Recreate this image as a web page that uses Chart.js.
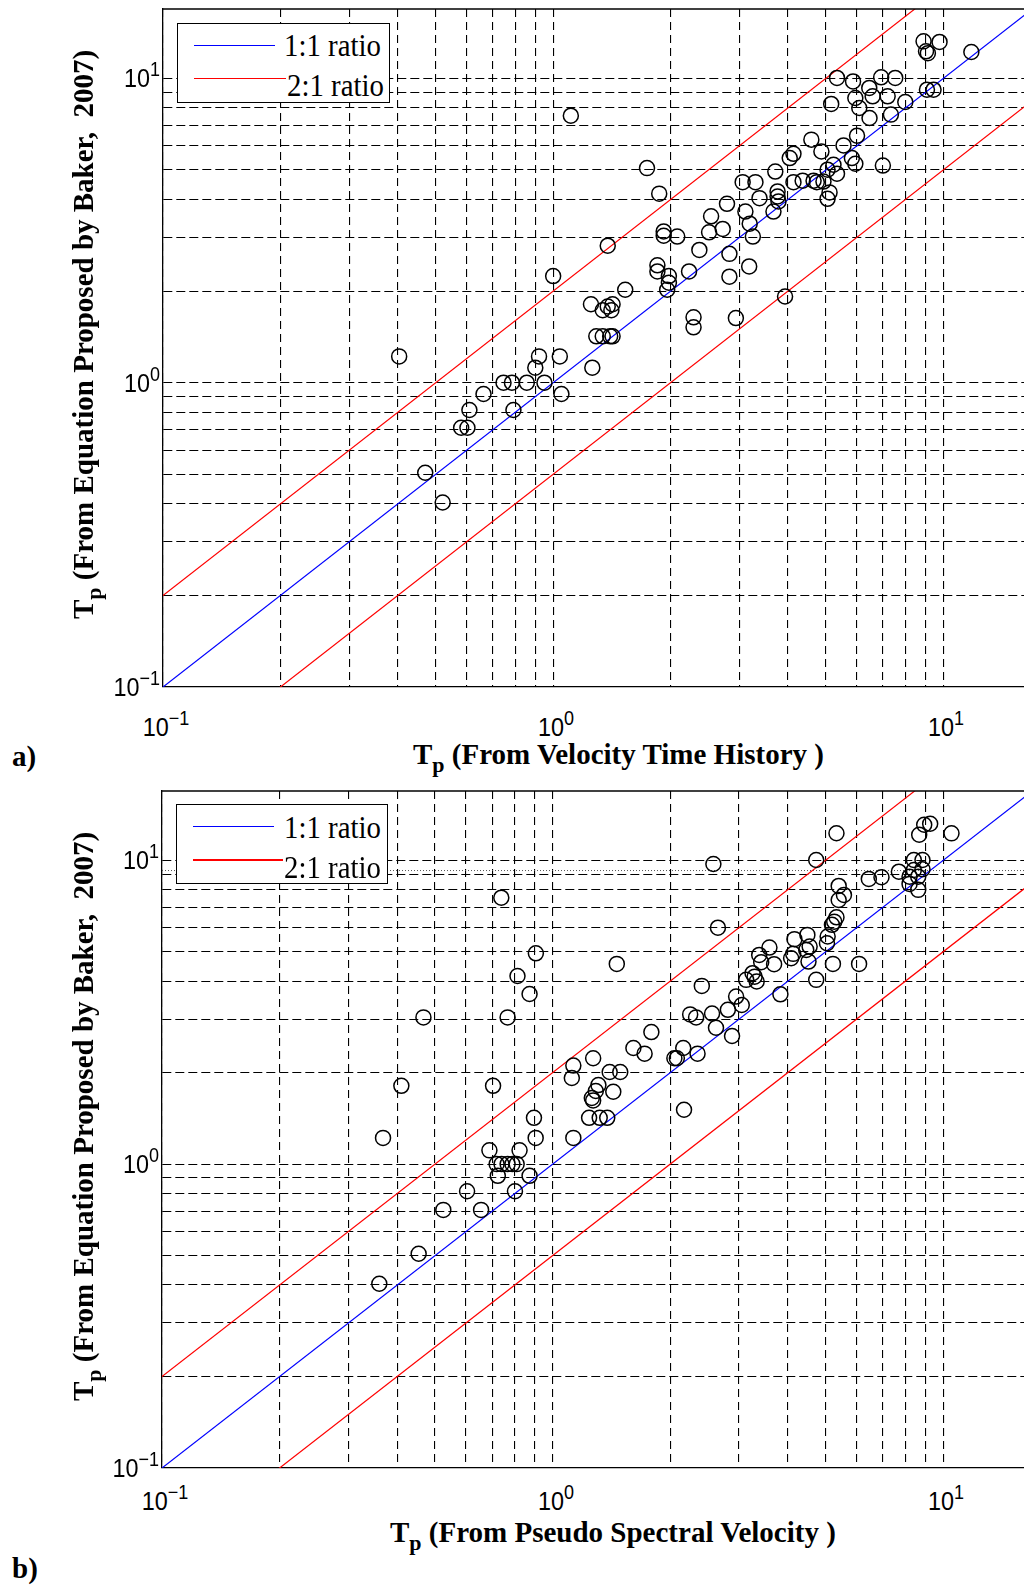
<!DOCTYPE html>
<html>
<head>
<meta charset="utf-8">
<script src="https://cdn.jsdelivr.net/npm/chart.js@4.4.0/dist/chart.umd.min.js"></script>
<style>
  body { margin: 0; background: #fff; }
  #page { position: relative; width: 1024px; height: 1586px; overflow: hidden; background: #fff; }
  .panel { position: absolute; left: 0; width: 1024px; height: 700px; }
  .tick {
    position: absolute; font-family: "Liberation Sans", Arial, sans-serif; font-size: 26px;
    line-height: 1; white-space: nowrap; color: #000;
  }
  .tick sup { font-size: 20px; position: relative; top: -11px; vertical-align: baseline; }
  .xtick { transform-origin: 50% 50%; transform: translate(-50%, -50%) scaleX(0.9); }
  .ytick { transform-origin: 100% 50%; transform: translate(-100%, -50%) scaleX(0.9); }
  .title {
    position: absolute; font-family: "Liberation Serif", "Times New Roman", serif; font-weight: bold;
    font-size: 29px; line-height: 1; white-space: pre; color: #000;
  }
  .title sub { font-size: 22px; position: relative; top: 8px; vertical-align: baseline; }
  .ytitle { transform-origin: 0 0; transform: rotate(-90deg); }
  .legend { position: absolute; background: #fff; border: 1.3px solid #000; box-sizing: border-box; }
  .legend .swatch { position: absolute; height: 0; }
  .legend .label {
    position: absolute; font-family: "Liberation Serif", "Times New Roman", serif; font-size: 31px;
    line-height: 1; white-space: nowrap; transform-origin: 0 0; transform: scaleX(0.93);
  }
</style>
</head>
<body>
<div id="page">
  <div class="panel" id="panelA" style="top:0px"><canvas id="chartA"></canvas></div>
  <div class="panel" id="panelB" style="top:780px"><canvas id="chartB"></canvas></div>

  <div class="legend" style="left:177px; top:23px; width:213px; height:80px">
    <div class="swatch" style="left:16px; top:21px; width:81px; border-top:1.3px solid #0000ff"></div>
    <div class="label" style="left:106px; top:6px">1:1 ratio</div>
    <div class="swatch" style="left:16px; top:54px; width:92px; border-top:1.3px solid #ff0000"></div>
    <div class="label" style="left:109px; top:46px">2:1 ratio</div>
  </div>
  <div class="legend" style="left:176px; top:804px; width:212px; height:80px">
    <div class="swatch" style="left:16px; top:21px; width:81px; border-top:1.3px solid #0000ff"></div>
    <div class="label" style="left:107px; top:7px">1:1 ratio</div>
    <div class="swatch" style="left:16px; top:54px; width:90px; border-top:2px solid #ff0000"></div>
    <div class="label" style="left:107px; top:47px">2:1 ratio</div>
  </div>

  <div class="title ytitle" style="left:69px; top:619px">T<sub>p</sub> (From Equation Proposed by Baker,  2007)</div>
  <div class="title" style="left:413px; top:740px">T<sub>p</sub> (From Velocity Time History )</div>
  <div class="title" style="left:12px; top:742px">a)</div>

  <div class="title ytitle" style="left:69px; top:1401px">T<sub>p</sub> (From Equation Proposed by Baker,  2007)</div>
  <div class="title" style="left:390px; top:1518px">T<sub>p</sub> (From Pseudo Spectral Velocity )</div>
  <div class="title" style="left:12px; top:1554px">b)</div>
</div>

<script>
// axis limits (log10 scales on both axes)
const axisMinX = 0.1, axisMaxX = 16.1;
const axisMinY = 0.1, axisMaxY = 16.9;

// grid lines at every 1..9 x 10^n, labels only at the decades
const gridValues = [0.1, 0.2, 0.3, 0.4, 0.5, 0.6, 0.7, 0.8, 0.9, 1, 2, 3, 4, 5, 6, 7, 8, 9, 10];
const decadeValues = [0.1, 1, 10];
const decadeExponents = ['\u22121', '0', '1'];

// reference lines: 1:1 and the two 2:1 bounds
const ratioX = [0.05, 40];
const oneToOneY = [0.05, 40];
const twiceY = [0.1, 80];
const halfY = [0.025, 20];

// thin dotted level line in panel b
const dottedX = [0.1, 20];
const dottedY = [9.25, 9.25];

// a) Tp from velocity time history vs Tp from Baker (2007)
const velocityTp = [
  8.90, 9.78, 9.03, 9.13, 11.80, 5.34, 5.87, 6.93, 7.53, 6.46,
  6.59, 5.95, 7.20, 9.08, 9.44, 5.16, 6.09, 7.99, 6.47, 7.34,
  1.11, 6.01, 4.59, 5.55, 4.87, 4.13, 4.04, 5.83, 5.95, 7.00,
  1.74, 5.23, 5.05, 5.34, 3.71, 3.06, 3.30, 4.13, 4.36, 4.65,
  4.74, 4.93, 5.11, 5.05, 3.76, 3.76, 3.38, 3.78, 3.67, 1.87,
  2.79, 3.11, 3.19, 3.25, 2.54, 2.51, 2.72, 1.92, 1.92, 2.08,
  1.38, 2.37, 2.83, 3.18, 2.83, 1.85, 1.85, 1.98, 1.98, 1.96,
  2.23, 1.00, 1.53, 1.25, 1.34, 1.38, 1.42, 1.41, 3.93, 2.29,
  2.29, 2.94, 1.29, 1.34, 1.40, 1.42, 0.92, 1.04, 0.90, 1.26,
  0.746, 0.784, 0.856, 0.95, 0.663, 1.05, 0.61, 0.791, 0.581, 0.603,
  0.47, 0.521, 0.403
];
const bakerTpA = [
  13.23, 13.17, 12.27, 12.10, 12.21, 10.03, 9.77, 10.08, 10.03, 9.30,
  8.73, 8.62, 8.73, 9.18, 9.18, 8.24, 7.99, 8.36, 7.41, 7.60,
  7.54, 6.48, 6.29, 6.02, 5.75, 5.65, 5.47, 5.47, 5.24, 5.17,
  5.07, 5.20, 5.01, 4.86, 4.94, 4.56, 4.56, 4.56, 4.61, 4.61,
  4.56, 4.58, 4.22, 4.02, 4.25, 4.09, 4.04, 3.94, 3.65, 4.18,
  3.87, 3.65, 3.33, 3.02, 3.52, 3.12, 3.20, 3.14, 3.04, 3.02,
  2.82, 2.73, 2.65, 2.41, 2.23, 2.43, 2.32, 2.24, 2.13, 2.02,
  2.32, 2.24, 2.02, 1.81, 1.73, 1.78, 1.81, 1.73, 1.92, 1.64,
  1.52, 1.63, 1.42, 1.42, 1.42, 1.42, 1.22, 1.22, 1.12, 1.12,
  1.00, 1.00, 1.00, 1.00, 0.918, 0.918, 0.813, 0.813, 0.711, 0.711,
  0.506, 0.404, 1.22
];

// b) Tp from pseudo spectral velocity vs Tp from Baker (2007)
const spectralTp = [
  8.94, 9.26, 5.33, 8.68, 10.50, 4.73, 2.58, 8.41, 8.85, 7.70,
  6.45, 6.95, 8.41, 8.85, 8.20, 8.63, 8.20, 8.63, 0.739, 5.40,
  5.57, 5.40, 5.26, 5.33, 5.19, 2.65, 4.49, 4.55, 4.46, 5.06,
  5.04, 4.16, 4.13, 4.08, 3.59, 3.38, 3.69, 3.42, 5.22, 6.09,
  4.52, 4.73, 0.906, 1.46, 0.813, 0.873, 3.25, 3.33, 3.13, 3.29,
  2.41, 3.83, 2.95, 3.05, 2.81, 2.25, 2.33, 2.56, 2.62, 2.88,
  0.467, 0.767, 1.79, 1.61, 1.72, 2.05, 2.08, 2.16, 2.35, 1.13,
  1.12, 1.27, 1.40, 1.49, 1.31, 1.29, 1.26, 1.27, 1.43, 2.17,
  1.24, 1.32, 1.38, 0.41, 0.704, 0.896, 0.905, 1.13, 0.368, 0.689,
  0.823, 0.719, 0.740, 0.767, 0.789, 0.809, 0.724, 0.873, 0.604, 0.801,
  0.525, 0.656, 0.454, 0.36
];
const bakerTpB = [
  13.09, 13.19, 12.27, 12.13, 12.26, 10.02, 9.72, 10.02, 10.02, 9.17,
  8.68, 8.79, 9.29, 9.34, 8.83, 8.83, 8.36, 7.99, 7.53, 8.23,
  7.69, 7.40, 6.28, 6.49, 6.13, 6.00, 5.68, 5.20, 5.07, 5.61,
  5.33, 5.50, 4.92, 4.76, 5.16, 4.88, 4.55, 4.62, 4.56, 4.56,
  4.64, 4.04, 4.94, 4.56, 4.16, 3.63, 4.25, 3.99, 4.04, 4.14,
  3.86, 3.62, 3.56, 3.34, 3.22, 3.11, 3.04, 3.13, 2.81, 2.64,
  3.04, 3.04, 2.72, 2.41, 2.31, 2.23, 2.23, 2.41, 2.31, 2.11,
  1.92, 2.23, 2.01, 2.01, 1.82, 1.74, 1.65, 1.62, 1.73, 1.51,
  1.42, 1.42, 1.42, 1.81, 1.81, 1.42, 1.22, 1.22, 1.22, 1.11,
  1.11, 1.00, 1.00, 1.00, 1.00, 1.00, 0.915, 0.915, 0.814, 0.814,
  0.707, 0.707, 0.507, 0.404
];

function pairs(xs, ys) {
  return xs.map((x, i) => ({ x: x, y: ys[i] }));
}

// solid frame along the top edge of the plot box
const frameTop = {
  id: 'frameTop',
  afterDraw(chart) {
    const { ctx, chartArea } = chart;
    ctx.save();
    ctx.strokeStyle = '#000';
    ctx.lineWidth = 1.3;
    ctx.beginPath();
    ctx.moveTo(chartArea.left, chartArea.top);
    ctx.lineTo(chartArea.right, chartArea.top);
    ctx.stroke();
    ctx.restore();
  }
};

function logAxis(min, max, dash) {
  return {
    type: 'logarithmic',
    min: min,
    max: max,
    bounds: 'data',
    afterBuildTicks: (scale) => {
      scale.ticks = gridValues.map(v => ({ value: v }));
    },
    ticks: { display: false },
    grid: { color: '#000', lineWidth: 1.1, drawTicks: false },
    border: { display: true, color: '#000', width: 1.3, dash: dash }
  };
}

function buildPanel(canvasId, xs, ys, padding, withDotted) {
  const datasets = [
    {
      data: pairs(xs, ys),
      showLine: false,
      pointRadius: 7.5,
      pointHoverRadius: 7.5,
      pointBorderWidth: 1.5,
      pointBorderColor: '#000',
      pointBackgroundColor: 'rgba(0,0,0,0)'
    },
    { data: pairs(ratioX, oneToOneY), showLine: true, borderColor: '#0000ff', borderWidth: 1.2, pointRadius: 0 },
    { data: pairs(ratioX, twiceY), showLine: true, borderColor: '#ff0000', borderWidth: 1.2, pointRadius: 0 },
    { data: pairs(ratioX, halfY), showLine: true, borderColor: '#ff0000', borderWidth: 1.2, pointRadius: 0 }
  ];
  if (withDotted) {
    datasets.push({
      data: pairs(dottedX, dottedY), showLine: true, borderColor: '#555',
      borderWidth: 1, borderDash: [1, 2], pointRadius: 0
    });
  }
  return new Chart(document.getElementById(canvasId), {
    type: 'scatter',
    data: { datasets: datasets },
    options: {
      responsive: true,
      maintainAspectRatio: false,
      animation: false,
      layout: { padding: padding, autoPadding: false },
      plugins: { legend: { display: false }, tooltip: { enabled: false } },
      scales: {
        x: logAxis(axisMinX, axisMaxX, [8, 5]),
        y: logAxis(axisMinY, axisMaxY, [9, 4])
      }
    },
    plugins: [frameTop]
  });
}

function powerLabel(exp, cls) {
  const el = document.createElement('div');
  el.className = 'tick ' + cls;
  el.innerHTML = '10<sup>' + exp + '</sup>';
  return el;
}

// decade labels placed from the chart's own scales
function addDecadeLabels(hostId, chart, xLabelGap) {
  const host = document.getElementById(hostId);
  const area = chart.chartArea;
  decadeValues.forEach((v, i) => {
    const xl = powerLabel(decadeExponents[i], 'xtick');
    xl.style.left = (chart.scales.x.getPixelForValue(v) + 3) + 'px';
    xl.style.top = (area.bottom + xLabelGap) + 'px';
    host.appendChild(xl);

    const yl = powerLabel(decadeExponents[i], 'ytick');
    yl.style.left = (area.left - 3) + 'px';
    yl.style.top = chart.scales.y.getPixelForValue(v) + 'px';
    host.appendChild(yl);
  });
}

const chartA = buildPanel('chartA', velocityTp, bakerTpA, { left: 163, top: 9, right: 0, bottom: 13 }, false);
const chartB = buildPanel('chartB', spectralTp, bakerTpB, { left: 162, top: 11, right: 0, bottom: 12 }, true);
addDecadeLabels('panelA', chartA, 40);
addDecadeLabels('panelB', chartB, 33);
</script>
</body>
</html>
